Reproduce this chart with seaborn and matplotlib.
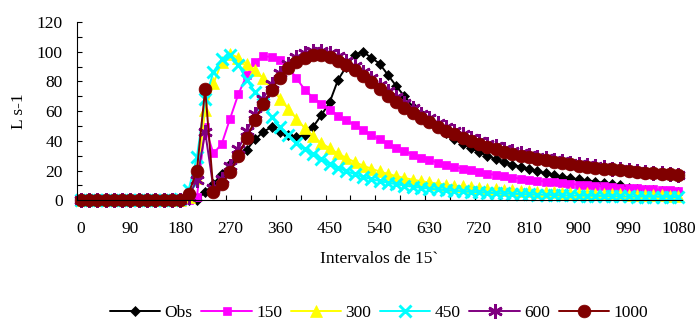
import matplotlib
matplotlib.use("Agg")
import matplotlib.pyplot as plt
import seaborn as sns
from matplotlib.ticker import FixedLocator

# 15-minute intervals (0 .. 1080)
minutes = list(range(0, 1081, 15))

obs = [0, 0, 0, 0, 0, 0, 0, 0, 0, 0, 0, 0, 0, 0, 0.5,
       5.6, 11, 18, 24.5, 29, 34, 41, 46, 49.4, 46,
       44, 42.7, 43.8, 49.4, 57.3, 66, 81, 90, 98, 100,
       96, 92, 84.5, 77, 70, 63, 58, 54, 49, 45,
       41, 38, 35, 32.5, 30, 27.5, 25.5, 24, 22.5, 21,
       19.5, 18.2, 17, 16, 15, 14, 13.2, 12.5, 11.8, 11,
       10, 8.5, 7.8, 7.2, 6.7, 6.3, 5.9, 5.5]

q150 = [0, 0, 0, 0, 0, 0, 0, 0, 0, 0, 0, 0, 0, 0, 2,
        49, 31.5, 38, 55, 71.5, 84, 93, 97, 96.5, 94.5,
        90, 82, 74.5, 69, 65, 61, 57, 54, 50.6, 47.3,
        44, 41, 38, 35.3, 33, 30.8, 28.8, 27, 25.4, 24,
        22.6, 21.3, 20.1, 19, 18, 17, 16.1, 15.3, 14.6, 13.9,
        13.2, 12.6, 12, 11.5, 11, 10.5, 10.1, 9.7, 9.3, 8.9,
        8.6, 8.3, 8, 7.7, 7.4, 7.1, 6.8, 6.5]

q300 = [0, 0, 0, 0, 0, 0, 0, 0, 0, 0, 0, 0, 0, 2, 15,
        60.7, 78.7, 93, 98.5, 96, 92, 87.5, 82, 75.5, 68.5,
        61.5, 55, 48.5, 43, 38.5, 35, 31.5, 28.5, 25.8, 23.4,
        21.3, 19.4, 17.8, 16.3, 15, 13.9, 12.9, 12, 11.2, 10.5,
        9.9, 9.3, 8.8, 8.3, 7.9, 7.5, 7.1, 6.8, 6.5, 6.2,
        5.9, 5.7, 5.4, 5.2, 5, 4.8, 4.6, 4.4, 4.3, 4.1,
        4, 3.8, 3.7, 3.6, 3.4, 3.3, 3.2, 3.1]

q450 = [0, 0, 0, 0, 0, 0, 0, 0, 0, 0, 0, 0, 1, 7, 29,
        68, 86.5, 95, 97.5, 91, 81, 73, 65, 56, 49.4,
        43.8, 38.5, 34.5, 31, 27.5, 24.7, 22, 19.7, 17.6, 15.8,
        14.3, 13, 11.8, 10.8, 9.9, 9.1, 8.4, 7.8, 7.3, 6.8,
        6.4, 6, 5.7, 5.4, 5.1, 4.8, 4.6, 4.4, 4.2, 4,
        3.8, 3.7, 3.5, 3.4, 3.3, 3.2, 3.1, 3, 2.9, 2.8,
        2.7, 2.6, 2.5, 2.5, 2.4, 2.3, 2.3, 2.2]

q600 = [0, 0, 0, 0, 0, 0, 0, 0, 0, 0, 0, 0, 0, 2.5, 13.5,
        46, 8, 14.5, 23, 34.5, 46.5, 58, 68.5, 78, 86,
        92, 96.5, 99.3, 100.5, 100.5, 99.3, 97, 94, 90.3, 86.2,
        82, 77.6, 73.3, 69.2, 65.4, 61.8, 58.4, 55.2, 52.2, 49.4,
        46.8, 44.4, 42.2, 40.1, 38.1, 36.3, 34.7, 33.2, 31.8, 30.5,
        29.3, 28.2, 27.2, 26.2, 25.3, 24.4, 23.6, 22.8, 22.1, 21.4,
        20.8, 20.2, 19.6, 19.1, 18.6, 18.1, 17.7, 17.3]

q1000 = [0, 0, 0, 0, 0, 0, 0, 0, 0, 0, 0, 0, 0, 4.5, 20,
         75, 5.6, 11.3, 19, 30, 42, 54, 64.5, 74.5, 82.5,
         89, 93, 96, 97.5, 97.5, 96.3, 94, 91, 87.5, 83.5,
         79.3, 75, 70.5, 66, 62.3, 58.8, 55.5, 52.4, 49.5, 46.8,
         44.3, 42, 39.9, 37.9, 36, 34.3, 32.8, 31.4, 30.1, 28.9,
         27.8, 26.8, 25.9, 25, 24.2, 23.4, 22.7, 22, 21.4, 20.8,
         20.2, 19.7, 19.2, 18.7, 18.2, 17.8, 17.4, 17]

labels = ["Obs", "150", "300", "450", "600", "1000"]
values = [obs, q150, q300, q450, q600, q1000]
colors = ["#000000", "#FF00FF", "#FFFF00", "#00FFFF", "#800080", "#800000"]
markers = ["D", "s", "^", "x", (6, 2, 0), "o"]
msizes = [4.8, 5.8, 9.0, 8.2, 10.5, 9.2]
mews = [0.5, 0.5, 0.5, 2.1, 1.9, 0.5]

sns.set_style("ticks")
plt.rcParams["font.family"] = ["Liberation Serif", "DejaVu Serif"]
plt.rcParams["text.color"] = "black"
plt.rcParams["axes.labelcolor"] = "black"
plt.rcParams["xtick.color"] = "black"
plt.rcParams["ytick.color"] = "black"

fs = 12.5
fig = plt.figure(figsize=(6.99, 3.25), dpi=100)
ax = fig.add_axes([76.5 / 699, (325 - 200.3) / 325, 606 / 699, 178.3 / 325])

for name, vals, col, mk, ms, mew in zip(labels, values, colors, markers, msizes, mews):
    sns.lineplot(x=minutes, y=vals, ax=ax, color=col, linewidth=1.4,
                 marker=mk, markersize=ms, markeredgecolor=col,
                 markerfacecolor=col, markeredgewidth=mew,
                 label=name, clip_on=False)
    line = ax.lines[-1]
    line.set_markeredgecolor(col)
    line.set_markerfacecolor(col)
    line.set_markeredgewidth(mew)

ax.set_xlim(-7.5, 1087.5)
ax.set_ylim(0, 120)

ax.set_xticks(list(range(0, 1081, 90)))
ax.xaxis.set_minor_locator(FixedLocator([45 * k - 7.5 for k in range(1, 25)]))
ax.set_yticks(list(range(0, 121, 20)))
ax.yaxis.set_minor_locator(FixedLocator(list(range(10, 120, 20))))

ax.tick_params(axis="x", which="major", length=0, pad=15, labelsize=fs)
ax.tick_params(axis="x", which="minor", direction="in", length=3.5, width=0.8)
ax.tick_params(axis="y", which="both", direction="in", length=3.5, width=0.8)
ax.tick_params(axis="y", which="major", pad=10, labelsize=fs)

for side in ("top", "right"):
    ax.spines[side].set_visible(False)
for side in ("left", "bottom"):
    ax.spines[side].set_color("black")
    ax.spines[side].set_linewidth(0.8)

ax.set_xlabel("Intervalos de 15`", fontsize=fs)
ax.xaxis.set_label_coords(0.5, -0.285)
ax.set_ylabel("L s-1", fontsize=fs)
ax.yaxis.set_label_coords(-0.082, 0.5)

handles, labs = ax.get_legend_handles_labels()
ax.get_legend().remove()
fig.legend(handles, labs, loc="center", bbox_to_anchor=(379 / 699, 1 - 313 / 325),
           ncol=6, frameon=False, fontsize=fs, handlelength=2.9,
           handletextpad=0.25, columnspacing=0.5, borderaxespad=0, borderpad=0)

fig.savefig("out.png", dpi=100)
